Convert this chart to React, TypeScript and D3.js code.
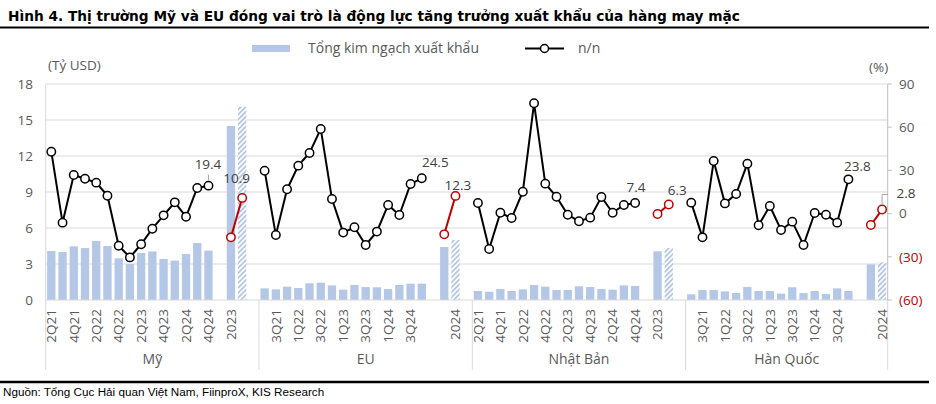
import React from 'react';
import * as d3 from 'd3';

// quarterly categories shared by every market
const quarters = ['2Q21', '3Q21', '4Q21', '1Q22', '2Q22', '3Q22', '4Q22', '1Q23', '2Q23', '3Q23', '4Q23', '1Q24', '2Q24', '3Q24', '4Q24'];
const years = ['2023', '2024'];
const markets = ['Mỹ', 'EU', 'Nhật Bản', 'Hàn Quốc'];

// Tổng kim ngạch xuất khẩu (tỷ USD), quarterly
const usExports = [4.08, 4.0, 4.47, 4.33, 4.92, 4.5, 3.47, 3.0, 3.92, 4.05, 3.42, 3.28, 3.83, 4.75, 4.11];
const euExports = [0.97, 0.89, 1.11, 1.0, 1.39, 1.44, 1.22, 0.86, 1.25, 1.08, 1.06, 0.92, 1.25, 1.36, 1.36];
const jpExports = [0.75, 0.69, 0.92, 0.75, 0.89, 1.25, 1.11, 0.83, 0.83, 1.14, 1.08, 0.92, 0.86, 1.22, 1.17];
const krExports = [0.47, 0.83, 0.83, 0.72, 0.58, 1.08, 0.75, 0.75, 0.53, 1.06, 0.58, 0.75, 0.5, 0.97, 0.75];

// yearly totals (2023, 2024)
const usYearExports = [14.5, 16.1];
const euYearExports = [4.42, 5.0];
const jpYearExports = [4.06, 4.33];
const krYearExports = [2.97, 3.14];

// n/n growth (%), quarterly
const usGrowth = [43.0, -6.3, 26.8, 24.2, 21.5, 12.4, -22.3, -30.4, -21.3, -10.5, -1.2, 7.8, -2.2, 17.8, 19.4];
const euGrowth = [29.8, -14.9, 16.9, 33.3, 42.1, 58.8, 10.1, -13.2, -9.5, -21.8, -12.5, 6.0, -1.0, 20.6, 24.5];
const jpGrowth = [7.4, -24.6, 0.6, -3.1, 15.2, 76.6, 20.8, 11.7, -0.8, -5.3, -2.8, 11.5, 0.6, 6.0, 7.4];
const krGrowth = [7.6, -16.5, 36.5, 7.1, 13.6, 34.7, -8.1, 5.3, -11.4, -5.6, -21.8, 0.4, -0.8, -6.3, 23.8];

// n/n growth (%), yearly (2023, 2024)
const usYearGrowth = [-16.5, 10.9];
const euYearGrowth = [-14.4, 12.3];
const jpYearGrowth = [-0.3, 6.3];
const krYearGrowth = [-7.9, 2.8];

const leftTicks = [0, 3, 6, 9, 12, 15, 18];
const rightTicks = [-60, -30, 0, 30, 60, 90];

const exportsByMarket = [usExports, euExports, jpExports, krExports];
const yearExportsByMarket = [usYearExports, euYearExports, jpYearExports, krYearExports];
const growthByMarket = [usGrowth, euGrowth, jpGrowth, krGrowth];
const yearGrowthByMarket = [usYearGrowth, euYearGrowth, jpYearGrowth, krYearGrowth];

// label placement tweaks (offset from point): last quarter, then 2024
const labelOffsets = [
  { q: [-0.5, -16.5], y: [-5.5, -15] },
  { q: [13.5, -11.5], y: [2.5, -6] },
  { q: [1, -11], y: [8.5, -10] },
  { q: [9, -8.5], y: null },
];

type Cat = { key: string; label: string; market: number; kind: 'q' | 'y' | 'gap'; i: number };

const App = () => {
  const W = 936;
  const H = 404;
  const left = 45.7, right = 887.7, top = 84, bottom = 300;

  // build category list: quarters, gap, 2023, 2024, gap (no trailing gap at end)
  const cats: Cat[] = [];
  markets.forEach((m, mi) => {
    quarters.forEach((q, i) => cats.push({ key: `${mi}-q${i}`, label: q, market: mi, kind: 'q', i }));
    cats.push({ key: `${mi}-g1`, label: '', market: mi, kind: 'gap', i: 0 });
    years.forEach((y, i) => cats.push({ key: `${mi}-y${i}`, label: y, market: mi, kind: 'y', i }));
    if (mi < markets.length - 1) cats.push({ key: `${mi}-g2`, label: '', market: mi, kind: 'gap', i: 1 });
  });

  const x = d3.scaleBand<string>()
    .domain(cats.map(c => c.key))
    .range([left, right])
    .paddingInner(0.26)
    .paddingOuter(0.13);
  const yL = d3.scaleLinear().domain([0, 18]).range([bottom, top]);
  const yR = d3.scaleLinear().domain([-60, 90]).range([bottom, top]);
  const cx = (k: string) => (x(k) as number) + x.bandwidth() / 2;
  const line = d3.line<[number, number]>().x(d => d[0]).y(d => d[1]);

  const gray = '#595959';
  const grid = '#D9D9D9';
  const blue = '#B4C7E7';
  const red = '#C00000';
  const font = '"Open Sans", "Noto Sans", sans-serif';

  // group spans for dividers and labels
  const groupEdges = markets.map((m, mi) => {
    const keys = cats.filter(c => c.market === mi).map(c => c.key);
    const x0 = x(keys[0]) as number - x.step() * x.paddingInner() / 2;
    const x1 = x(keys[keys.length - 1]) as number + x.bandwidth() + x.step() * x.paddingInner() / 2;
    return { m, x0, x1 };
  });

  return (
    <div style={{ position: 'fixed', left: 0, top: 0 }}>
      <svg width={W} height={H} style={{ display: 'block', background: '#fff' }}>
        <defs>
          <pattern id="hatch" patternUnits="userSpaceOnUse" width="3.5" height="3.5" patternTransform="rotate(45)">
            <rect width="3.5" height="3.5" fill="#fff" />
            <rect width="1.8" height="3.5" fill={blue} />
          </pattern>
        </defs>

        {/* title */}
        <text x={8} y={21} fontFamily='"DejaVu Sans", sans-serif' fontWeight="bold" fontSize={13.5} fill="#000"
          textLength={732} lengthAdjust="spacingAndGlyphs">
          Hình 4. Thị trường Mỹ và EU đóng vai trò là động lực tăng trưởng xuất khẩu của hàng may mặc
        </text>
        <line x1={0} x2={929} y1={27.5} y2={27.5} stroke="#000" strokeWidth={2} />

        {/* legend */}
        <rect x={252} y={45} width={38} height={7} fill={blue} />
        <text x={308} y={53} fontFamily={font} fontSize={14} fill={gray}>Tổng kim ngạch xuất khẩu</text>
        <line x1={525} x2={564} y1={48.5} y2={48.5} stroke="#000" strokeWidth={2} />
        <circle cx={544.5} cy={48.5} r={4} fill="#fff" stroke="#000" strokeWidth={1.5} />
        <text x={578} y={53} fontFamily={font} fontSize={14} fill={gray}>n/n</text>

        <text x={48} y={70} fontFamily={font} fontSize={13.5} fill={gray}>(Tỷ USD)</text>
        <text x={869} y={72} fontFamily={font} fontSize={13.5} fill={gray}>(%)</text>

        {/* gridlines */}
        {leftTicks.filter(t => t > 0).map(t => (
          <line key={t} x1={left} x2={right} y1={yL(t)} y2={yL(t)} stroke={grid} strokeWidth={1} />
        ))}

        {/* left axis labels */}
        {leftTicks.map(t => (
          <text key={t} x={33} y={yL(t)} dy="0.35em" textAnchor="end" fontFamily={font} fontSize={13.5} fill={gray}>{t}</text>
        ))}

        {/* right axis */}
        <line x1={right} x2={right} y1={top} y2={bottom} stroke="#BFBFBF" />
        {rightTicks.map(t => (
          <g key={t}>
            <line x1={right} x2={right + 4} y1={yR(t)} y2={yR(t)} stroke="#BFBFBF" />
            <text x={899} y={yR(t)} dy="0.35em" fontFamily={font} fontSize={13.5} fill={t < 0 ? red : gray}>
              {t < 0 ? `(${-t})` : t}
            </text>
          </g>
        ))}

        {/* bars */}
        {cats.filter(c => c.kind !== 'gap').map(c => {
          const v = c.kind === 'q' ? exportsByMarket[c.market][c.i] : yearExportsByMarket[c.market][c.i];
          const hatched = c.kind === 'y' && c.i === 1;
          return (
            <rect key={c.key} x={x(c.key)} y={yL(v)} width={x.bandwidth()} height={yL(0) - yL(v)}
              fill={hatched ? 'url(#hatch)' : blue} />
          );
        })}

        {/* x axis + dividers */}
        <line x1={left} x2={right} y1={bottom} y2={bottom} stroke={grid} />
        <line x1={left} x2={left} y1={top} y2={370} stroke={grid} />
        {groupEdges.map((g, gi) => (
          <line key={gi} x1={g.x1} x2={g.x1} y1={bottom} y2={370} stroke={grid} />
        ))}

        {/* category labels, every other category */}
        {cats.map((c, idx) => (idx % 2 === 0 && c.kind !== 'gap') ? (
          <text key={c.key} transform={`translate(${cx(c.key)},309) rotate(-90)`} dy="0.35em" textAnchor="end"
            fontFamily={font} fontSize={13.5} fill={gray}>{c.label}</text>
        ) : null)}
        {groupEdges.map((g, gi) => (
          <text key={gi} x={(g.x0 + g.x1) / 2} y={364} textAnchor="middle" fontFamily={font} fontSize={14} fill={gray}>{g.m}</text>
        ))}

        {/* growth lines */}
        {markets.map((m, mi) => {
          const qPts: [number, number][] = growthByMarket[mi].map((v, i) => [cx(`${mi}-q${i}`), yR(v)]);
          const yPts: [number, number][] = yearGrowthByMarket[mi].map((v, i) => [cx(`${mi}-y${i}`), yR(v)]);
          const off = labelOffsets[mi];
          const lastQ = qPts[qPts.length - 1];
          const lastY = yPts[1];
          const qVal = growthByMarket[mi][growthByMarket[mi].length - 1];
          const yVal = yearGrowthByMarket[mi][1];
          return (
            <g key={m}>
              <path d={line(qPts) as string} fill="none" stroke="#000" strokeWidth={2} />
              {qPts.map((p, i) => (
                <circle key={i} cx={p[0]} cy={p[1]} r={4.2} fill="#fff" stroke="#000" strokeWidth={1.5} />
              ))}
              <path d={line(yPts) as string} fill="none" stroke={red} strokeWidth={2} />
              {yPts.map((p, i) => (
                <circle key={i} cx={p[0]} cy={p[1]} r={4.2} fill="#fff" stroke={red} strokeWidth={1.5} />
              ))}
              {mi === 0 && (
                <line x1={lastQ[0]} x2={lastQ[0]} y1={lastQ[1] - 11} y2={lastQ[1] - 5} stroke="#A6A6A6" />
              )}
              <text x={lastQ[0] + off.q[0]} y={lastQ[1] + off.q[1]} textAnchor="middle" fontFamily={font} fontSize={13.5} fill="#404040">
                {qVal.toFixed(1)}
              </text>
              {off.y ? (
                <text x={lastY[0] + off.y[0]} y={lastY[1] + off.y[1]} textAnchor="middle" fontFamily={font} fontSize={13.5} fill="#404040">
                  {yVal.toFixed(1)}
                </text>
              ) : (
                <g>
                  <polyline points={`${lastY[0]},${lastY[1] - 4.5} ${lastY[0]},${lastY[1] - 15} ${lastY[0] + 6},${lastY[1] - 15}`}
                    fill="none" stroke="#A6A6A6" />
                  <text x={896.5} y={lastY[1] - 11.5} fontFamily={font} fontSize={13.5} fill="#404040">{yVal.toFixed(1)}</text>
                </g>
              )}
            </g>
          );
        })}

        {/* source */}
        <line x1={0} x2={929} y1={382} y2={382} stroke="#000" strokeWidth={2.5} />
        <text x={3} y={396} fontFamily='"Liberation Sans", Arial, sans-serif' fontSize={11.7} fill="#000">
          Nguồn: Tổng Cục Hải quan Việt Nam, FiinproX, KIS Research
        </text>
      </svg>
    </div>
  );
};

export default App;
